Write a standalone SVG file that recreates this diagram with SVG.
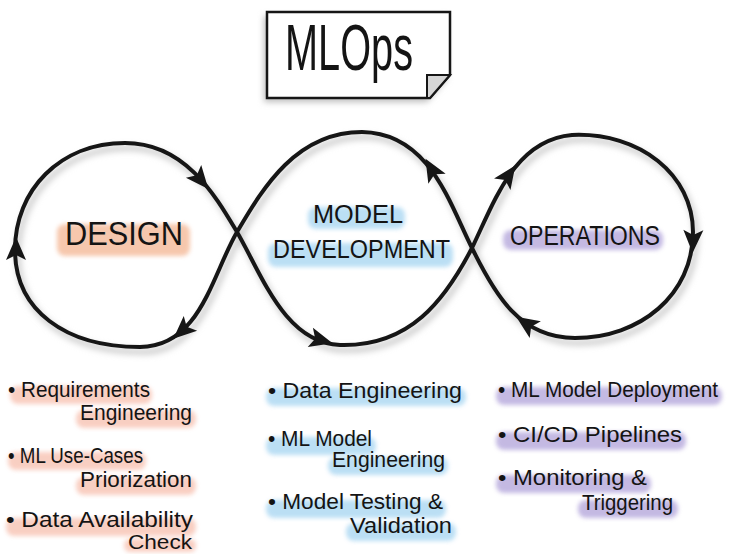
<svg xmlns="http://www.w3.org/2000/svg" width="731" height="554" viewBox="0 0 731 554">
<defs>
<filter id="blur2" x="-20%" y="-40%" width="140%" height="180%"><feGaussianBlur stdDeviation="2"/></filter>
<filter id="blur3" x="-10%" y="-10%" width="120%" height="120%"><feGaussianBlur stdDeviation="3"/></filter>
<path id="ah" d="M 13 0 L -10 -10 L -5 0 L -10 10 Z"/>
<style>
.t{font-family:"Liberation Sans",Arial,sans-serif;fill:#141414}
.big{font-size:64px}
.li{font-size:22px}
.hl{filter:url(#blur2)}
.or{fill:#f1a377;opacity:.6}
.bl{fill:#8fcaee;opacity:.6}
.pu{fill:#9d8bd0;opacity:.6}
.ors{fill:#f4a891;opacity:.55}
.loop{fill:none;stroke:#161616;stroke-width:4;stroke-linejoin:round}
.shadow{fill:none;stroke:#c8c8c8;stroke-width:5;filter:url(#blur3)}
.arrow{fill:#161616}
</style>
</defs>
<rect width="731" height="554" fill="#ffffff"/>

<g id="title">
<path d="M267 12 H450 V75 L430 98 H267 Z" fill="#bdbdbd" transform="translate(-3,4)" filter="url(#blur3)"/>
<path d="M267 12 H450 V75 L430 98 H267 Z" fill="#ffffff" stroke="#161616" stroke-width="2.5"/>
<path d="M427 75 H450 L430 98 H427 Z" fill="#d6d6d6" stroke="#161616" stroke-width="2"/>
<text class="t big" x="285" y="70" textLength="128" lengthAdjust="spacingAndGlyphs">MLOps</text>
</g>

<g id="connectors">
<path class="shadow" transform="translate(3,5)" d="M 237 232 C 262 275, 285 343, 340 345 C 410 347, 445 300, 472 248 C 495 200, 515 140, 572 135 C 640 132, 693 175, 693 232 C 693 295, 640 338, 575 338 C 520 338, 495 295, 472 248 C 450 205, 430 133, 362 132 C 295 132, 262 190, 237 232 C 212 275, 200 347, 140 347 C 65 347, 15 310, 15 250 C 15 190, 60 143, 125 143 C 185 143, 215 195, 237 232 Z"/>
<path class="loop" d="M 237 232 C 262 275, 285 343, 340 345 C 410 347, 445 300, 472 248 C 495 200, 515 140, 572 135 C 640 132, 693 175, 693 232 C 693 295, 640 338, 575 338 C 520 338, 495 295, 472 248 C 450 205, 430 133, 362 132 C 295 132, 262 190, 237 232 C 212 275, 200 347, 140 347 C 65 347, 15 310, 15 250 C 15 190, 60 143, 125 143 C 185 143, 215 195, 237 232 Z"/>
<use href="#ah" class="arrow" transform="translate(200,179) rotate(50)"/>
<use href="#ah" class="arrow" transform="translate(16,250) rotate(-90)"/>
<use href="#ah" class="arrow" transform="translate(183,330) rotate(138)"/>
<use href="#ah" class="arrow" transform="translate(320,340) rotate(15)"/>
<use href="#ah" class="arrow" transform="translate(432,170) rotate(-120)"/>
<use href="#ah" class="arrow" transform="translate(508,176) rotate(-55)"/>
<use href="#ah" class="arrow" transform="translate(693,240) rotate(92)"/>
<use href="#ah" class="arrow" transform="translate(527,324) rotate(-146)"/>
</g>

<g id="design">
<rect class="hl or" x="57" y="224" width="133" height="32" rx="8"/>
<text class="t" x="65" y="245" font-size="34" textLength="118" lengthAdjust="spacingAndGlyphs">DESIGN</text>
</g>

<g id="model-development">
<rect class="hl bl" x="308" y="207" width="97" height="22" rx="8"/>
<rect class="hl bl" x="268" y="243" width="185" height="24" rx="8"/>
<text class="t" x="313" y="223" font-size="25" textLength="90" lengthAdjust="spacingAndGlyphs">MODEL</text>
<text class="t" x="273" y="258" font-size="25" textLength="177" lengthAdjust="spacingAndGlyphs">DEVELOPMENT</text>
</g>

<g id="operations">
<rect class="hl pu" x="503" y="230" width="160" height="20" rx="8"/>
<text class="t" x="510" y="245" font-size="27" textLength="150" lengthAdjust="spacingAndGlyphs">OPERATIONS</text>
</g>

<g id="design-tasks">
<rect class="hl ors" x="10" y="386" width="142" height="18" rx="8"/>
<rect class="hl ors" x="76" y="410" width="120" height="18" rx="8"/>
<rect class="hl ors" x="8" y="452" width="138" height="18" rx="8"/>
<rect class="hl ors" x="76" y="477" width="120" height="18" rx="8"/>
<rect class="hl ors" x="6" y="518" width="190" height="18" rx="8"/>
<rect class="hl ors" x="124" y="539" width="72" height="13" rx="6"/>
<text class="t li" x="8" y="397" textLength="142" lengthAdjust="spacingAndGlyphs">• Requirements</text>
<text class="t li" x="80" y="420" textLength="112" lengthAdjust="spacingAndGlyphs">Engineering</text>
<text class="t li" x="8" y="463" textLength="135" lengthAdjust="spacingAndGlyphs">• ML Use-Cases</text>
<text class="t li" x="80" y="487" textLength="112" lengthAdjust="spacingAndGlyphs">Priorization</text>
<text class="t li" x="6" y="527" textLength="187" lengthAdjust="spacingAndGlyphs">• Data Availability</text>
<text class="t" x="128" y="549" font-size="20" textLength="64" lengthAdjust="spacingAndGlyphs">Check</text>
</g>

<g id="model-tasks">
<rect class="hl bl" x="266" y="388" width="200" height="18" rx="8"/>
<rect class="hl bl" x="266" y="437" width="110" height="18" rx="8"/>
<rect class="hl bl" x="328" y="457" width="120" height="18" rx="8"/>
<rect class="hl bl" x="266" y="500" width="180" height="18" rx="8"/>
<rect class="hl bl" x="346" y="523" width="110" height="18" rx="8"/>
<text class="t li" x="268" y="398" textLength="194" lengthAdjust="spacingAndGlyphs">• Data Engineering</text>
<text class="t li" x="268" y="446" textLength="104" lengthAdjust="spacingAndGlyphs">• ML Model</text>
<text class="t li" x="332" y="467" textLength="113" lengthAdjust="spacingAndGlyphs">Engineering</text>
<text class="t li" x="268" y="509" textLength="175" lengthAdjust="spacingAndGlyphs">• Model Testing &amp;</text>
<text class="t li" x="350" y="533" textLength="102" lengthAdjust="spacingAndGlyphs">Validation</text>
</g>

<g id="operations-tasks">
<rect class="hl pu" x="496" y="387" width="226" height="18" rx="8"/>
<rect class="hl pu" x="496" y="432" width="190" height="18" rx="8"/>
<rect class="hl pu" x="496" y="475" width="155" height="18" rx="8"/>
<rect class="hl pu" x="578" y="500" width="100" height="18" rx="8"/>
<text class="t li" x="498" y="397" textLength="220" lengthAdjust="spacingAndGlyphs">• ML Model Deployment</text>
<text class="t li" x="498" y="442" textLength="184" lengthAdjust="spacingAndGlyphs">• CI/CD Pipelines</text>
<text class="t li" x="498" y="485" textLength="149" lengthAdjust="spacingAndGlyphs">• Monitoring &amp;</text>
<text class="t li" x="582" y="510" textLength="91" lengthAdjust="spacingAndGlyphs">Triggering</text>
</g>
</svg>
